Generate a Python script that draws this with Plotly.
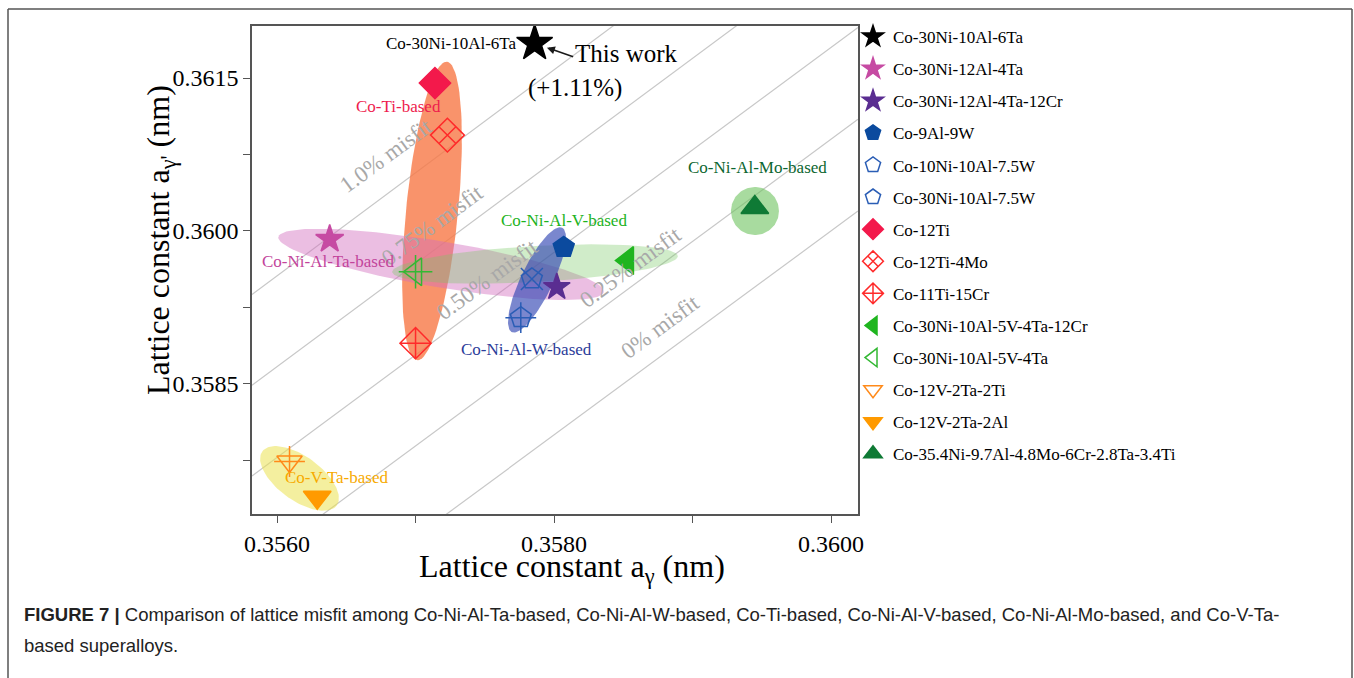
import numpy as np
import plotly.graph_objects as go

# ---------------- data ----------------
names = ["Co-30Ni-10Al-6Ta", "Co-30Ni-12Al-4Ta", "Co-30Ni-12Al-4Ta-12Cr", "Co-9Al-9W",
         "Co-10Ni-10Al-7.5W", "Co-30Ni-10Al-7.5W", "Co-12Ti", "Co-12Ti-4Mo", "Co-11Ti-15Cr",
         "Co-30Ni-10Al-5V-4Ta-12Cr", "Co-30Ni-10Al-5V-4Ta", "Co-12V-2Ta-2Ti", "Co-12V-2Ta-2Al",
         "Co-35.4Ni-9.7Al-4.8Mo-6Cr-2.8Ta-3.4Ti"]
a_gamma = [0.35786, 0.35638, 0.35802, 0.35807, 0.35784, 0.35776, 0.35714, 0.35723, 0.35700,
           0.35853, 0.35700, 0.35609, 0.35629, 0.35945]
a_gamma_prime = [0.36184, 0.35992, 0.35945, 0.35984, 0.35953, 0.35915, 0.36145, 0.36094, 0.35890,
                 0.35971, 0.35960, 0.35774, 0.35739, 0.36023]

misfit_values = [0.0, 0.25, 0.50, 0.75, 1.0]          # percent
misfit_labels = ["0% misfit", "0.25% misfit", "0.50% misfit", "0.75% misfit", "1.0% misfit"]
misfit_label_x = [0.35877, 0.35855, 0.35752, 0.35712, 0.35679]
misfit_label_y = [0.35906, 0.35964, 0.35952, 0.36005, 0.36074]

group_labels = ["Co-Ti-based", "Co-Ni-Al-Ta-based", "Co-Ni-Al-V-based", "Co-Ni-Al-W-based",
                "Co-Ni-Al-Mo-based", "Co-V-Ta-based"]
group_label_x = [0.35688, 0.35637, 0.35807, 0.35780, 0.35947, 0.35643]
group_label_y = [0.36122, 0.35970, 0.36010, 0.35884, 0.36062, 0.35758]
# group regions: centre (nm)
region_cx = [0.357119, 0.357184, 0.357863, 0.357877, 0.359451, 0.356162]
region_cy = [0.360196, 0.359672, 0.359676, 0.359520, 0.360196, 0.357574]

x_ticks = [0.3560, 0.3580, 0.3600]
x_minor = [0.3570, 0.3590]
y_ticks = [0.3585, 0.3600, 0.3615]
y_minor = [0.35775, 0.35925, 0.36075]

# ---------------- styles ----------------
W, H = 1354, 678
ML, MR, MT, MB = 252, 496, 26, 164
PW, PH = W - ML - MR, H - MT - MB
XR = [0.355819, 0.360195]
YR = [0.357225, 0.362010]
SX = PW / (XR[1] - XR[0])
SY = PH / (YR[1] - YR[0])

def px(x):
    return (x - ML) / PW

def py(y):
    return (H - MB - y) / PH

SERIF = "Liberation Serif, Times New Roman, serif"

styles = [
    ("star", None, "#000000", 27),
    ("star", None, "#C64BA3", 21),
    ("star", None, "#5A2D91", 20),
    ("pentagon", None, "#0B4A9E", 22),
    ("pentagon-open", "x-thin-open", "#2A5DB5", 22),
    ("pentagon-open", "cross-thin-open", "#2A5DB5", 22),
    ("diamond", None, "#F3194B", 24),
    ("diamond-x-open", None, "#FF2A2A", 26),
    ("diamond-cross-open", None, "#FF2A2A", 24),
    ("triangle-left", None, "#1FB51F", 24),
    ("triangle-left-open", "cross-thin-open", "#33B833", 24),
    ("triangle-down-open", "cross-thin-open", "#FF8A1A", 22),
    ("triangle-down", None, "#FF9A00", 24),
    ("triangle-up", None, "#0F7A35", 24),
]

region_style = [  # a(px), b(px), angle(deg), fill
    (150, 26, 84.3, "rgba(247,120,70,0.80)"),
    (165, 23, -9.6, "rgba(210,110,190,0.45)"),
    (143, 18, 3.2, "rgba(120,200,100,0.35)"),
    (58, 16, 64.3, "rgba(50,70,180,0.65)"),
    (24, 24, 0.0, "rgba(110,195,95,0.60)"),
    (46, 22, -36.0, "rgba(235,225,80,0.55)"),
]
group_colors = ["#EE1C4E", "#C2449B", "#1DB31D", "#2B3C99", "#0C6630", "#F7AA00"]

fig = go.Figure()

# misfit guide lines  a_gamma' = a_gamma (1 + delta)
for d in misfit_values:
    xl = np.array(XR)
    fig.add_trace(go.Scatter(x=xl, y=xl * (1 + d / 100.0), mode="lines",
                             line=dict(color="rgb(200,200,200)", width=1.2),
                             showlegend=False, hoverinfo="skip"))

# group regions
t = np.linspace(0, 2 * np.pi, 120)
for cx, cy, (a, b, ang, fill) in zip(region_cx, region_cy, region_style):
    th = np.deg2rad(ang)
    u, v = a * np.cos(t), b * np.sin(t)
    dx = u * np.cos(th) - v * np.sin(th)
    dy = u * np.sin(th) + v * np.cos(th)
    fig.add_trace(go.Scatter(x=cx + dx / SX, y=cy + dy / SY, mode="lines", fill="toself",
                             fillcolor=fill, line=dict(width=0), showlegend=False,
                             hoverinfo="skip"))

# alloys
for name, xv, yv, (sym, over, col, size) in zip(names, a_gamma, a_gamma_prime, styles):
    if over is None:
        xs, ys, syms = [xv], [yv], [sym]
    else:
        xs, ys, syms = [xv, xv], [yv, yv], [sym, over]
    fig.add_trace(go.Scatter(x=xs, y=ys, mode="markers", name=name, legendgroup=name,
                             marker=dict(symbol=syms, color=col, size=size,
                                         line=dict(color=col, width=1.5))))

ann = []
for lab, lx, ly in zip(misfit_labels, misfit_label_x, misfit_label_y):
    ann.append(dict(x=lx, y=ly, text=lab, showarrow=False, textangle=-36.4,
                    font=dict(family=SERIF, size=23, color="#A8A8A8")))
for lab, lx, ly, c in zip(group_labels, group_label_x, group_label_y, group_colors):
    ann.append(dict(x=lx, y=ly, text=lab, showarrow=False,
                    font=dict(family=SERIF, size=17, color=c)))

# this work
ann.append(dict(x=a_gamma[0], y=a_gamma_prime[0], text="Co-30Ni-10Al-6Ta", showarrow=False,
                xanchor="right", xshift=-16, font=dict(family=SERIF, size=17, color="#000")))
ann.append(dict(x=a_gamma[0], y=a_gamma_prime[0], ax=40, ay=14, text="", showarrow=True,
                arrowhead=2, arrowsize=1, arrowwidth=1.6, arrowcolor="#1a1a1a", standoff=13,
                startstandoff=0))
ann.append(dict(x=a_gamma[0], y=a_gamma_prime[0], text="This work", showarrow=False,
                xanchor="left", xshift=38, yshift=-10,
                font=dict(family=SERIF, size=25, color="#000")))
ann.append(dict(x=a_gamma[0], y=a_gamma_prime[0], text="(+1.11%)", showarrow=False,
                xanchor="center", xshift=40, yshift=-45,
                font=dict(family=SERIF, size=25, color="#000")))

# axis titles
ann.append(dict(xref="paper", yref="paper", x=px(572), y=py(568), xanchor="center", yanchor="middle",
                text="Lattice constant a<sub>γ</sub> (nm)",
                showarrow=False, font=dict(family=SERIF, size=32, color="#000")))
ann.append(dict(xref="paper", yref="paper", x=px(160), y=py(240), xanchor="center", yanchor="middle",
                text="Lattice constant a<sub>γ'</sub> (nm)",
                showarrow=False, textangle=-90, font=dict(family=SERIF, size=32, color="#000")))

# caption
CAP = "Liberation Sans, Arial, sans-serif"
ann.append(dict(xref="paper", yref="paper", x=px(22), y=py(614), xanchor="left", yanchor="middle",
                text="<b>FIGURE 7 |</b> Comparison of lattice misfit among Co-Ni-Al-Ta-based, Co-Ni-Al-W-based, "
                     "Co-Ti-based, Co-Ni-Al-V-based, Co-Ni-Al-Mo-based, and Co-V-Ta-",
                showarrow=False, font=dict(family=CAP, size=18.5, color="#222")))
ann.append(dict(xref="paper", yref="paper", x=px(22), y=py(645), xanchor="left", yanchor="middle",
                text="based superalloys.", showarrow=False,
                font=dict(family=CAP, size=18.5, color="#222")))

shapes = [
    dict(type="line", xref="paper", yref="paper", x0=px(8), x1=px(8), y0=py(9), y1=py(700),
         line=dict(color="#555", width=1.5)),
    dict(type="line", xref="paper", yref="paper", x0=px(8), x1=px(1352), y0=py(9), y1=py(9),
         line=dict(color="#555", width=1.5)),
    dict(type="line", xref="paper", yref="paper", x0=px(1352), x1=px(1352), y0=py(9), y1=py(700),
         line=dict(color="#555", width=1.5)),
]

axis_common = dict(showgrid=False, zeroline=False, showline=True, linecolor="#555", linewidth=1.5,
                   mirror=True, ticks="outside", ticklen=7, tickwidth=1.2, tickcolor="#555",
                   tickfont=dict(family=SERIF, size=24, color="#000"), tickformat=".4f")

fig.update_layout(
    width=W, height=H, margin=dict(l=ML, r=MR, t=MT, b=MB),
    paper_bgcolor="white", plot_bgcolor="white",
    xaxis=dict(range=XR, tickvals=x_ticks,
               minor=dict(tickvals=x_minor, ticks="outside", ticklen=7, tickcolor="#555"),
               **axis_common),
    yaxis=dict(range=YR, tickvals=y_ticks,
               minor=dict(tickvals=y_minor, ticks="outside", ticklen=7, tickcolor="#555"),
               **axis_common),
    showlegend=True,
    legend=dict(x=px(853), y=py(19), xanchor="left", yanchor="top", bgcolor="rgba(0,0,0,0)",
                font=dict(family=SERIF, size=17, color="#000"), tracegroupgap=7,
                itemsizing="trace", maxheight=640),
    annotations=ann, shapes=shapes,
)

fig.write_html("out.html")
